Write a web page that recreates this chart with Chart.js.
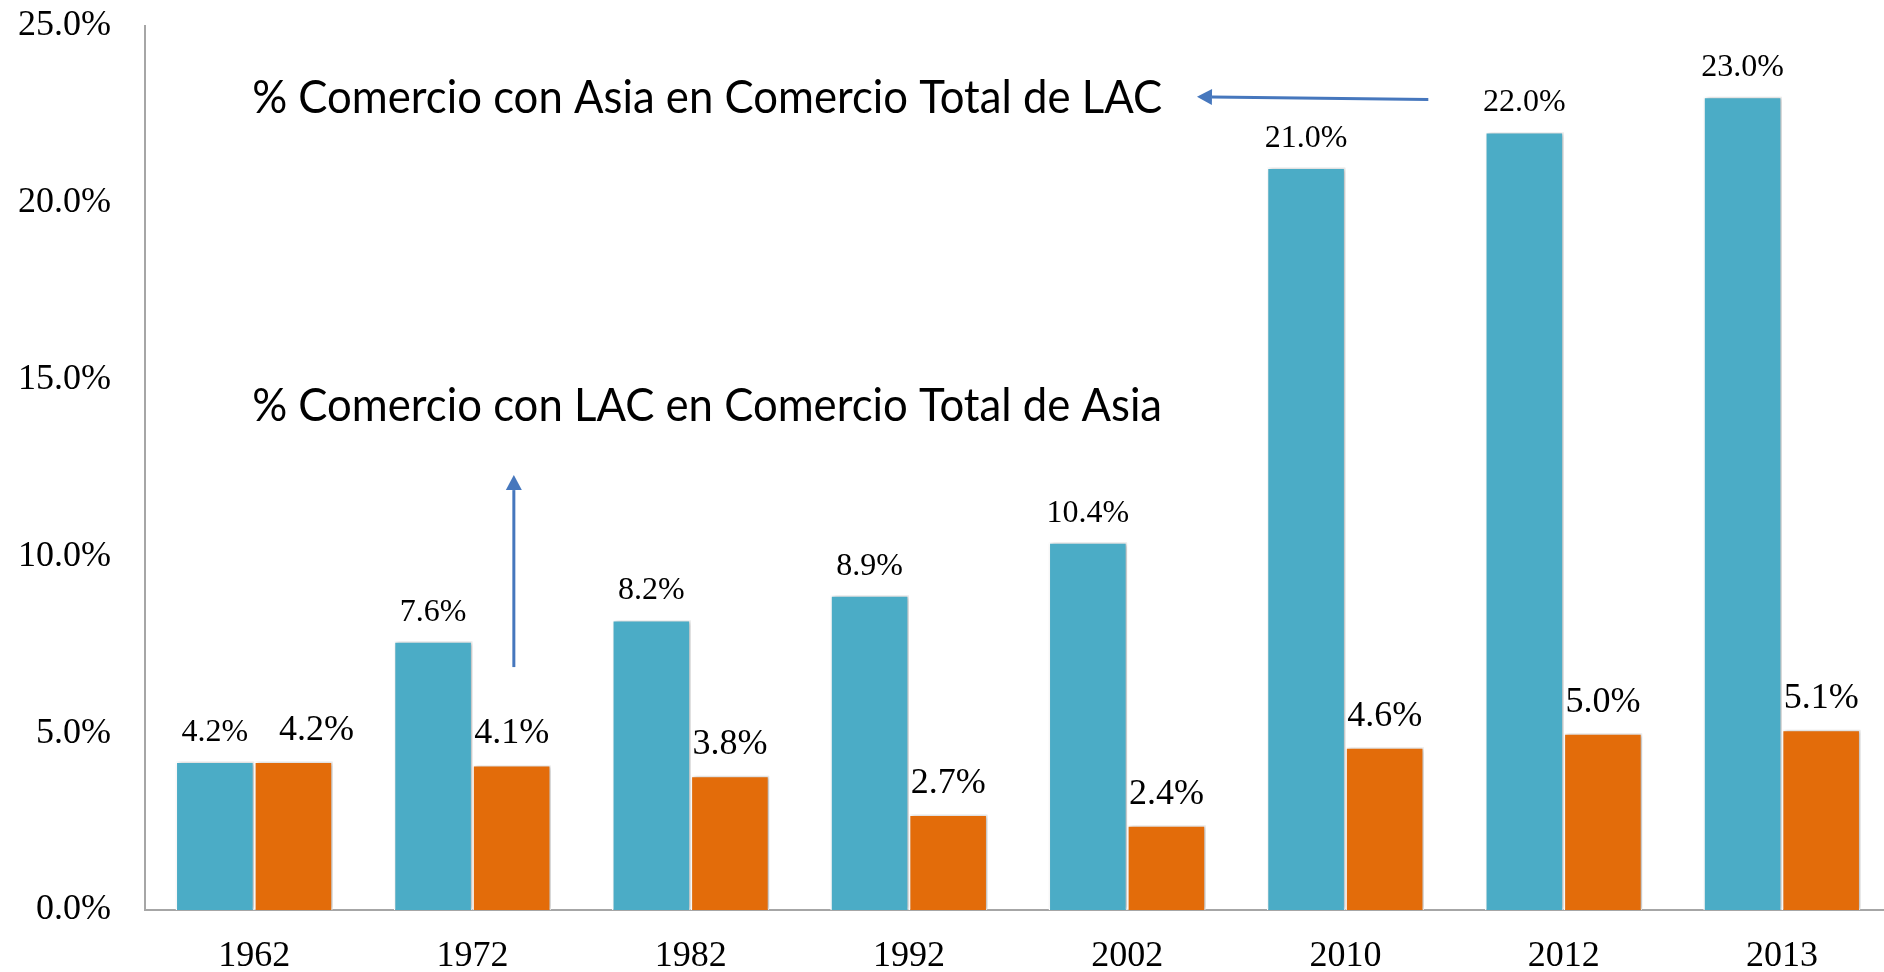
<!DOCTYPE html>
<html>
<head>
<meta charset="utf-8">
<script src="https://cdn.jsdelivr.net/npm/chart.js@4.4.0/dist/chart.umd.min.js"></script>
<style>
    html, body { margin: 0; padding: 0; background: #fff; overflow: hidden; }
    #wrap { width: 1891px; height: 972px; position: relative; }
</style>
</head>
<body>
<div id="wrap"><canvas id="myChart"></canvas></div>
<script>
const years = ['1962', '1972', '1982', '1992', '2002', '2010', '2012', '2013']
const asiaInLac = [4.2, 7.6, 8.2, 8.9, 10.4, 21.0, 22.0, 23.0]
const lacInAsia = [4.2, 4.1, 3.8, 2.7, 2.4, 4.6, 5.0, 5.1]
const yTicks = [0, 5, 10, 15, 20, 25]
const noteTop = '% Comercio con Asia en Comercio Total de LAC'
const noteMid = '% Comercio con LAC en Comercio Total de Asia'

const serif = '"Liberation Serif", "Times New Roman", serif'
const arrowBlue = '#4677BD'

// bar shadows + value labels
const barLabels = {
    id: 'barLabels',
    beforeDatasetsDraw(chart) {
        const ctx = chart.ctx
        ctx.save()
        ctx.shadowColor = 'rgba(0,0,0,0.28)'
        ctx.shadowBlur = 4
        ctx.shadowOffsetX = 2
    },
    afterDatasetsDraw(chart) {
        const ctx = chart.ctx
        ctx.restore()
        ctx.save()
        ctx.fillStyle = '#000'
        ctx.textAlign = 'center'
        ctx.textBaseline = 'middle'
        chart.data.datasets.forEach((ds, i) => {
            const meta = chart.getDatasetMeta(i)
            meta.data.forEach((bar, j) => {
                const txt = ds.data[j].toFixed(1) + '%'
                if (i === 0) {
                    ctx.font = '32px ' + serif
                    ctx.fillText(txt, bar.x, bar.y - 29)
                } else {
                    ctx.font = '36px ' + serif
                    ctx.fillText(txt, bar.x + (j === 0 ? 23 : 0), bar.y - 31)
                }
            })
        })
        ctx.restore()
    }
}

function arrow(ctx, x1, y1, x2, y2) {
    const ang = Math.atan2(y2 - y1, x2 - x1)
    const len = 15, half = 8
    ctx.beginPath()
    ctx.moveTo(x1, y1)
    ctx.lineTo(x2 - Math.cos(ang) * len, y2 - Math.sin(ang) * len)
    ctx.stroke()
    ctx.beginPath()
    ctx.moveTo(x2, y2)
    ctx.lineTo(x2 - Math.cos(ang) * len - Math.sin(ang) * half, y2 - Math.sin(ang) * len + Math.cos(ang) * half)
    ctx.lineTo(x2 - Math.cos(ang) * len + Math.sin(ang) * half, y2 - Math.sin(ang) * len - Math.cos(ang) * half)
    ctx.closePath()
    ctx.fill()
}

// stretched a little vertically, the original font is narrower than Lato
function note(ctx, txt, x, y) {
    ctx.save()
    ctx.translate(x, y)
    ctx.scale(1, 1.08)
    ctx.fillText(txt, 0, 0)
    ctx.restore()
}

const notes = {
    id: 'notes',
    afterDraw(chart) {
        const { ctx, scales: { x, y } } = chart
        ctx.save()
        ctx.fillStyle = '#000'
        ctx.textAlign = 'left'
        ctx.textBaseline = 'middle'
        const left = x.getPixelForValue(0) - 2
        ctx.font = '40px Lato'
        const size = 40 * 911 / ctx.measureText(noteTop).width
        ctx.font = size.toFixed(1) + 'px Lato'
        note(ctx, noteTop, left, y.getPixelForValue(22.96))
        note(ctx, noteMid, left, y.getPixelForValue(14.25))

        ctx.strokeStyle = arrowBlue
        ctx.fillStyle = arrowBlue
        ctx.lineWidth = 3
        arrow(ctx, x.getPixelForValue(5.38), y.getPixelForValue(22.92), x.getPixelForValue(4.32), y.getPixelForValue(23.0))
        arrow(ctx, x.getPixelForValue(1.19), y.getPixelForValue(6.87), x.getPixelForValue(1.19), y.getPixelForValue(12.3))
        ctx.restore()
    }
}

const ctx = document.getElementById('myChart')
const chart = new Chart(ctx, {
    type: 'bar',
    data: {
        labels: years,
        datasets: [{
            label: noteTop,
            data: asiaInLac,
            backgroundColor: '#4BACC6',
            borderColor: '#ffffff',
            borderWidth: 1.5,
            categoryPercentage: 0.72,
            barPercentage: 1
        }, {
            label: noteMid,
            data: lacInAsia,
            backgroundColor: '#E36C0A',
            borderColor: '#ffffff',
            borderWidth: 1.5,
            categoryPercentage: 0.72,
            barPercentage: 1
        }]
    },
    options: {
        responsive: true,
        maintainAspectRatio: false,
        animation: false,
        layout: { padding: { top: 26, right: 0, left: 0, bottom: 0 } },
        plugins: {
            legend: { display: false },
            tooltip: { enabled: false }
        },
        scales: {
            x: {
                grid: { display: false, drawTicks: false },
                border: { display: true, color: '#A6A6A6', width: 2 },
                ticks: { color: '#000', font: { family: serif, size: 36 }, padding: 25 },
                afterFit: s => { s.height = 62; s.paddingLeft = 0; s.paddingRight = 0 }
            },
            y: {
                min: 0,
                max: 25,
                grid: { display: false, drawTicks: false },
                border: { display: true, color: '#A6A6A6', width: 2 },
                afterBuildTicks: s => { s.ticks = yTicks.map(v => ({ value: v })) },
                ticks: {
                    color: '#000',
                    font: { family: serif, size: 36 },
                    padding: 34,
                    callback: v => v.toFixed(1) + '%'
                },
                afterFit: s => { s.width = 145; s.paddingTop = 0; s.paddingBottom = 0 }
            }
        }
    },
    plugins: [barLabels, notes]
})
</script>
</body>
</html>
